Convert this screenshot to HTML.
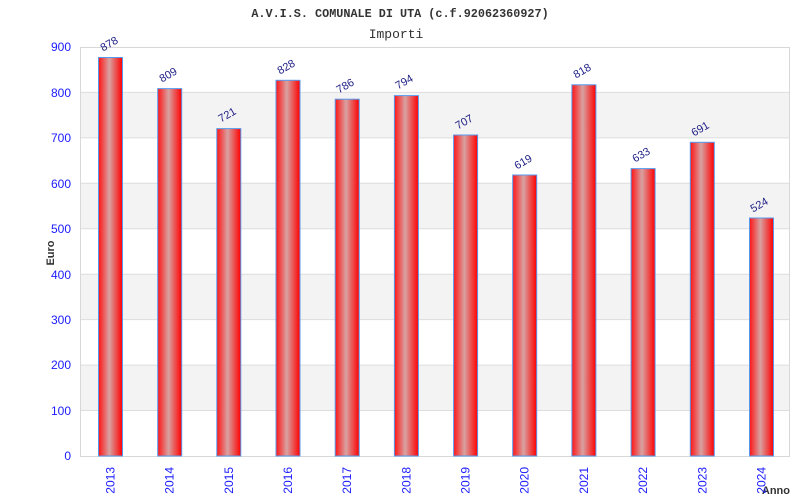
<!DOCTYPE html>
<html><head><meta charset="utf-8"><style>
html,body{margin:0;padding:0;background:#fff;}
svg{display:block;}
</style></head><body>
<svg width="800" height="500" xmlns="http://www.w3.org/2000/svg">
<defs>
<linearGradient id="g" x1="0" x2="1" y1="0" y2="0">
<stop offset="0" stop-color="#ff1414"/>
<stop offset="0.45" stop-color="#d8a2a2"/>
<stop offset="1" stop-color="#ff0000"/>
</linearGradient>
</defs>
<rect width="800" height="500" fill="#fff"/>
<!-- bands -->
<g fill="#f3f3f3">
<rect x="80" y="92.4" width="710" height="45.4"/>
<rect x="80" y="183.3" width="710" height="45.4"/>
<rect x="80" y="274.2" width="710" height="45.4"/>
<rect x="80" y="365.1" width="710" height="45.4"/>
</g>
<g stroke="#dddddd" stroke-width="1">
<line x1="80" y1="92.4" x2="790" y2="92.4"/>
<line x1="80" y1="137.9" x2="790" y2="137.9"/>
<line x1="80" y1="183.3" x2="790" y2="183.3"/>
<line x1="80" y1="228.8" x2="790" y2="228.8"/>
<line x1="80" y1="274.2" x2="790" y2="274.2"/>
<line x1="80" y1="319.6" x2="790" y2="319.6"/>
<line x1="80" y1="365.1" x2="790" y2="365.1"/>
<line x1="80" y1="410.5" x2="790" y2="410.5"/>
</g>
<rect x="80.5" y="47.5" width="709" height="409" fill="none" stroke="#d8d8d8" stroke-width="1"/>
<!-- titles -->
<text x="400" y="17" text-anchor="middle" font-family="Liberation Mono, monospace" font-weight="bold" font-size="11.8" fill="#333">A.V.I.S. COMUNALE DI UTA (c.f.92062360927)</text>
<text x="396" y="38" text-anchor="middle" font-family="Liberation Mono, monospace" font-size="13" fill="#333">Importi</text>
<!-- y labels -->
<g font-family="Liberation Sans, sans-serif" font-size="12" fill="#1a1aff" text-anchor="end">
<text x="71" y="51">900</text>
<text x="71" y="97">800</text>
<text x="71" y="142">700</text>
<text x="71" y="188">600</text>
<text x="71" y="233">500</text>
<text x="71" y="279">400</text>
<text x="71" y="324">300</text>
<text x="71" y="369">200</text>
<text x="71" y="415">100</text>
<text x="71" y="460">0</text>
</g>
<text transform="translate(54,253) rotate(-90)" text-anchor="middle" font-family="Liberation Sans, sans-serif" font-weight="bold" font-size="11" fill="#333">Euro</text>
<text x="790" y="494" text-anchor="end" font-family="Liberation Sans, sans-serif" font-weight="bold" font-size="11" fill="#333">Anno</text>
<!-- bars -->
<g fill="url(#g)" stroke="#5599ee" stroke-width="1">
<rect x="98.5" y="57.5" width="24" height="398.5"/>
<rect x="157.7" y="88.6" width="24" height="367.4"/>
<rect x="216.8" y="128.6" width="24" height="327.4"/>
<rect x="276" y="80.3" width="24" height="375.7"/>
<rect x="335.2" y="99.2" width="24" height="356.8"/>
<rect x="394.4" y="95.6" width="24" height="360.4"/>
<rect x="453.6" y="135" width="24" height="321"/>
<rect x="512.7" y="175" width="24" height="281"/>
<rect x="571.9" y="84.8" width="24" height="371.2"/>
<rect x="631.1" y="168.6" width="24" height="287.4"/>
<rect x="690.3" y="142.3" width="24" height="313.7"/>
<rect x="749.5" y="218" width="24" height="238"/>
</g>
<!-- value labels -->
<g font-family="Liberation Sans, sans-serif" font-size="11" fill="#222288" text-anchor="middle">
<text transform="translate(111,47) rotate(-30)">878</text>
<text transform="translate(170,78) rotate(-30)">809</text>
<text transform="translate(229,118) rotate(-30)">721</text>
<text transform="translate(288,70) rotate(-30)">828</text>
<text transform="translate(347,89) rotate(-30)">786</text>
<text transform="translate(406,85) rotate(-30)">794</text>
<text transform="translate(466,125) rotate(-30)">707</text>
<text transform="translate(525,165) rotate(-30)">619</text>
<text transform="translate(584,74) rotate(-30)">818</text>
<text transform="translate(643,158) rotate(-30)">633</text>
<text transform="translate(702,132) rotate(-30)">691</text>
<text transform="translate(761,208) rotate(-30)">524</text>
</g>
<!-- x labels -->
<g font-family="Liberation Sans, sans-serif" font-size="12" fill="#1a1aff" text-anchor="end">
<text transform="translate(114.5,467) rotate(-90)">2013</text>
<text transform="translate(173.7,467) rotate(-90)">2014</text>
<text transform="translate(232.8,467) rotate(-90)">2015</text>
<text transform="translate(292,467) rotate(-90)">2016</text>
<text transform="translate(351.2,467) rotate(-90)">2017</text>
<text transform="translate(410.4,467) rotate(-90)">2018</text>
<text transform="translate(469.6,467) rotate(-90)">2019</text>
<text transform="translate(528.7,467) rotate(-90)">2020</text>
<text transform="translate(587.9,467) rotate(-90)">2021</text>
<text transform="translate(647.1,467) rotate(-90)">2022</text>
<text transform="translate(706.3,467) rotate(-90)">2023</text>
<text transform="translate(765.5,467) rotate(-90)">2024</text>
</g>
</svg>
</body></html>
